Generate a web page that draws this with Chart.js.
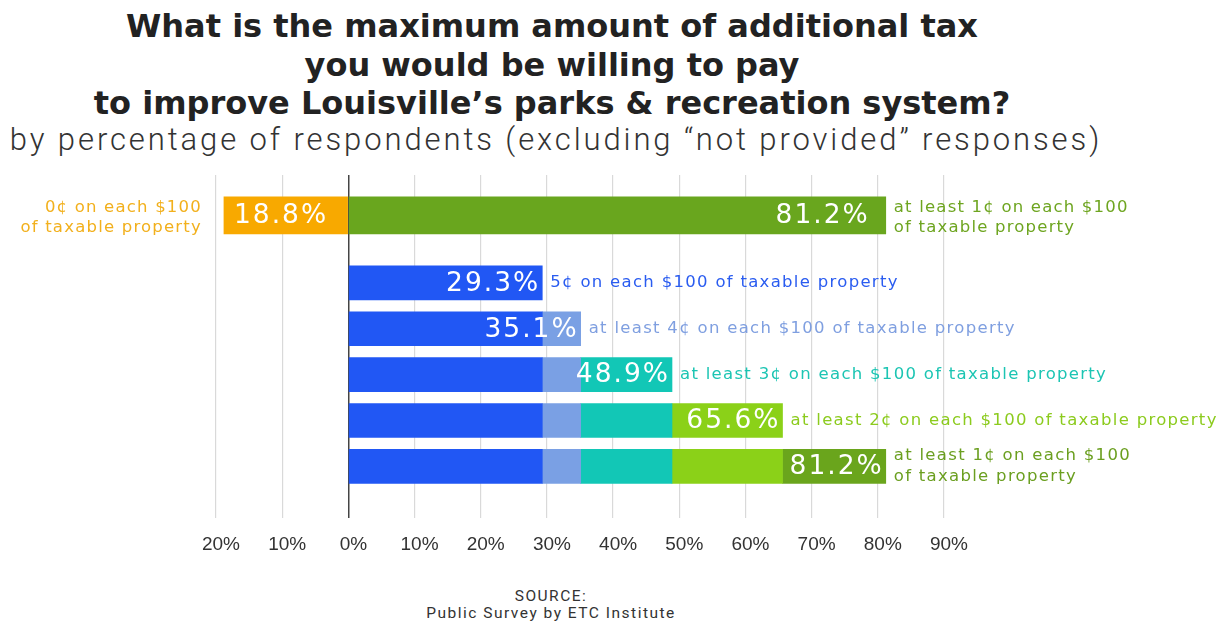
<!DOCTYPE html>
<html>
<head>
<meta charset="utf-8">
<script src="https://cdn.jsdelivr.net/npm/chart.js@4/dist/chart.umd.min.js"></script>
<style>
  html, body { margin: 0; padding: 0; background: #fff; }
  #wrap { position: relative; width: 1223px; height: 624px; overflow: hidden; }
  #title {
    position: absolute; left: 0; top: 7px; width: 1104px;
    text-align: center; font-family: "DejaVu Sans", sans-serif; font-weight: bold;
    font-size: 32px; line-height: 38.5px; color: #222;
  }
  #subtitle {
    position: absolute; left: 0; top: 121px; width: 1112px;
    text-align: center; font-family: Roboto, sans-serif; font-weight: 300;
    font-size: 31px; line-height: 38px; color: #333; letter-spacing: 2.9px;
  }
  #chart { position: absolute; left: 0; top: 165px; }
  #source {
    position: absolute; left: 0; top: 588px; width: 1102px;
    text-align: center; font-family: Roboto, sans-serif; font-size: 15.5px;
    line-height: 17px; color: #333; letter-spacing: 1.5px;
  }
</style>
</head>
<body>
<div id="wrap">
  <div id="title">What is the maximum amount of additional tax<br>you would be willing to pay<br>to improve Louisville’s parks &amp; recreation system?</div>
  <div id="subtitle">by percentage of respondents (excluding “not provided” responses)</div>
  <canvas id="chart" width="1223" height="418"></canvas>
  <div id="source">SOURCE:<br>Public Survey by ETC Institute</div>
</div>

<script>
/* ---------- data ---------- */

// top row: nothing vs. at least 1 cent
const noTaxShare  = 18.8;
const anyTaxShare = 81.2;
const noTaxLabel  = ["0¢ on each $100", "of taxable property"];
const anyTaxLabel = ["at least 1¢ on each $100", "of taxable property"];

// lower rows: cumulative share willing to pay at least each amount
const levelLabels = [
  ["5¢ on each $100 of taxable property"],
  ["at least 4¢ on each $100 of taxable property"],
  ["at least 3¢ on each $100 of taxable property"],
  ["at least 2¢ on each $100 of taxable property"],
  ["at least 1¢ on each $100", "of taxable property"]
];
const cumulativeShares = [29.3, 35.1, 48.9, 65.6, 81.2];

const xTicks = [-20, -10, 0, 10, 20, 30, 40, 50, 60, 70, 80, 90];

/* ---------- colours ---------- */

const orange     = "#f8a900";
const topGreen   = "#69a61e";
const barColors  = ["#2157f4", "#7aa0e4", "#12c7b6", "#8bd118", "#6aa51c"];
const textColors = ["#2a5cf0", "#7f9fe0", "#1cc5b3", "#8ccb1e", "#6b9f20"];
const orangeText = "#f2b01c";
const greenText  = "#6ea520";

/* ---------- layout helpers ---------- */

// row position on the (hidden) linear y axis; the top row sits apart
function rowPos(i) { return i < 0 ? 0 : 1.47 + i; }

const datasets = [];

datasets.push({
  label: "0¢",
  data: [{ y: rowPos(-1), x: [-noTaxShare, 0] }],
  backgroundColor: orange,
  barThickness: 37,
  grouped: false,
  row: "top-left"
});
datasets.push({
  label: "at least 1¢",
  data: [{ y: rowPos(-1), x: [0, anyTaxShare] }],
  backgroundColor: topGreen,
  barThickness: 37,
  grouped: false,
  row: "top-right"
});

// one dataset per level; each row shows every level up to its own
cumulativeShares.forEach((share, j) => {
  const data = [];
  for (let i = j; i < cumulativeShares.length; i++) {
    data.push({ y: rowPos(i), x: [j ? cumulativeShares[j - 1] : 0, share] });
  }
  datasets.push({
    label: levelLabels[j].join(" "),
    data: data,
    backgroundColor: barColors[j],
    barThickness: 34,
    grouped: false,
    level: j
  });
});

/* ---------- labels drawn next to the bars ---------- */

const valueFont = "26.5px 'DejaVu Sans'";
const noteFont  = "16.5px 'DejaVu Sans'";

const barLabels = {
  id: "barLabels",
  afterDatasetsDraw(chart) {
    const ctx = chart.ctx;
    ctx.save();
    ctx.textBaseline = "middle";

    chart.data.datasets.forEach((ds, di) => {
      const meta = chart.getDatasetMeta(di);

      if (ds.row === "top-left" || ds.row === "top-right") {
        const bar = meta.data[0];
        const left = ds.row === "top-left";
        const value = left ? noTaxShare : anyTaxShare;

        ctx.font = valueFont;
        ctx.letterSpacing = "2px";
        ctx.fillStyle = "#fff";
        ctx.textAlign = left ? "left" : "right";
        ctx.fillText(value.toFixed(1) + "%", left ? bar.x + 10 : bar.x - 16, bar.y + 1);

        ctx.font = noteFont;
        ctx.letterSpacing = "1.2px";
        ctx.fillStyle = left ? orangeText : greenText;
        ctx.textAlign = left ? "right" : "left";
        const lines = left ? noTaxLabel : anyTaxLabel;
        lines.forEach((t, k) => {
          ctx.fillText(t, left ? bar.x - 22 : bar.x + 8, bar.y - 8 + k * 20);
        });
        return;
      }

      // the last segment of a row carries the row's value and note
      const j = ds.level;
      const bar = meta.data[0];

      ctx.font = valueFont;
      ctx.letterSpacing = "2px";
      ctx.fillStyle = "#fff";
      ctx.textAlign = "right";
      ctx.fillText(cumulativeShares[j].toFixed(1) + "%", bar.x - 2, bar.y + 1);

      ctx.font = noteFont;
      ctx.letterSpacing = "1.3px";
      ctx.fillStyle = textColors[j];
      ctx.textAlign = "left";
      const lines = levelLabels[j];
      const top = bar.y - (lines.length - 1) * 10.5;
      lines.forEach((t, k) => ctx.fillText(t, bar.x + 8, top + k * 21));
    });

    ctx.restore();
  }
};

/* ---------- chart ---------- */

new Chart(document.getElementById("chart"), {
  type: "bar",
  data: { datasets: datasets },
  plugins: [barLabels],
  options: {
    indexAxis: "y",
    responsive: false,
    animation: false,
    layout: { padding: { left: 216, right: 279, top: 10, bottom: 12 } },
    plugins: { legend: { display: false }, tooltip: { enabled: false } },
    scales: {
      y: {
        type: "linear",
        display: false,
        offset: false,
        reverse: true,
        min: -0.88,
        max: 6.6
      },
      x: {
        type: "linear",
        min: xTicks[0],
        max: xTicks[xTicks.length - 1],
        afterBuildTicks(axis) { axis.ticks = xTicks.map(v => ({ value: v })); },
        border: { display: false },
        grid: {
          drawTicks: false,
          lineWidth: ctx => ctx.tick && ctx.tick.value === 0 ? 1.5 : 1.2,
          color: ctx => ctx.tick && ctx.tick.value === 0 ? "#444" : "#d9d9d9"
        },
        ticks: {
          padding: 15,
          labelOffset: 5,
          color: "#333",
          font: { family: "Liberation Sans", size: 19 },
          callback: v => Math.abs(v) + "%"
        }
      }
    }
  }
});
</script>
</body>
</html>
